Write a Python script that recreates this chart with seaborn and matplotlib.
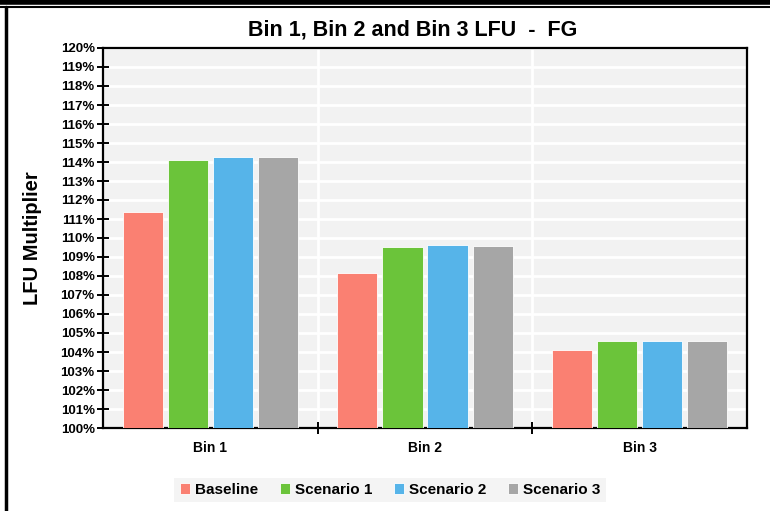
import numpy as np
import pandas as pd
import matplotlib
matplotlib.use("Agg")
import matplotlib.pyplot as plt
from matplotlib.ticker import PercentFormatter, MultipleLocator, FixedLocator
from matplotlib.lines import Line2D
import seaborn as sns

# 数据
bins = ["Bin 1", "Bin 2", "Bin 3"]
scenarios = ["Baseline", "Scenario 1", "Scenario 2", "Scenario 3"]
baseline = [1.1137, 1.0817, 1.0410]
scenario_1 = [1.1410, 1.0951, 1.0458]
scenario_2 = [1.1425, 1.0962, 1.0460]
scenario_3 = [1.1425, 1.0957, 1.0460]
colors = ["#FA8072", "#6BC43A", "#56B4E9", "#A6A6A6"]

df = pd.DataFrame({
    "Bin": bins * 4,
    "Scenario": np.repeat(scenarios, len(bins)),
    "Value": baseline + scenario_1 + scenario_2 + scenario_3,
})

sns.set_theme(style="white")
plt.rcParams["font.family"] = ["Liberation Sans", "DejaVu Sans"]
plt.rcParams["text.color"] = "black"
plt.rcParams["xtick.color"] = "black"
plt.rcParams["ytick.color"] = "black"
plt.rcParams["axes.labelcolor"] = "black"

fig = plt.figure(figsize=(7.7, 5.11), dpi=100)
ax = fig.add_axes([103 / 770, 83 / 511, 644 / 770, 380 / 511])
ax.set_facecolor("#F2F2F2")

sns.barplot(data=df, x="Bin", y="Value", hue="Scenario", palette=colors,
            saturation=1, width=0.84, gap=0.11, ax=ax, legend=True, zorder=3,
            edgecolor="white", linewidth=0.6)

ax.set_ylim(1.0, 1.2)
ax.set_xlim(-0.5, 2.5)
ax.yaxis.set_major_locator(MultipleLocator(0.01))
ax.yaxis.set_major_formatter(PercentFormatter(xmax=1, decimals=0))
ax.xaxis.set_minor_locator(FixedLocator([0.5, 1.5]))
ax.grid(axis="y", which="major", color="white", linewidth=2, zorder=0)
ax.grid(axis="x", which="minor", color="white", linewidth=2, zorder=0)
ax.set_axisbelow(True)

for s in ax.spines.values():
    s.set_visible(True)
    s.set_color("black")
    s.set_linewidth(1.6)

ax.tick_params(axis="y", which="major", direction="inout", length=8, width=1.4,
               labelsize=9.5, left=True, pad=2)
ax.tick_params(axis="x", which="major", length=0, labelsize=10, pad=9)
ax.tick_params(axis="x", which="minor", direction="inout", length=8, width=1.4,
               bottom=True)
for lbl in ax.get_yticklabels() + ax.get_xticklabels():
    lbl.set_fontweight("bold")

ax.set_xlabel("")
ax.set_ylabel("LFU Multiplier", fontsize=14.5, fontweight="bold", labelpad=13)

fig.text(413 / 770, 1 - 30 / 511, "Bin 1, Bin 2 and Bin 3 LFU  -  FG",
         ha="center", va="center", fontsize=15.5, fontweight="bold")

handles, labels = ax.get_legend_handles_labels()
ax.legend_.remove()
leg = fig.legend(handles, labels, loc="center", bbox_to_anchor=(390 / 770, 1 - 490 / 511),
                 ncol=4, frameon=True, facecolor="#F2F2F2", edgecolor="none",
                 fancybox=False, handlelength=0.7, handleheight=0.7,
                 handletextpad=0.3, columnspacing=1.4, borderpad=0.35,
                 prop={"weight": "bold", "size": 11})

# 外框
fig.add_artist(Line2D([0, 1], [1 - 2.5 / 511] * 2, color="black", linewidth=4))
fig.add_artist(Line2D([0, 1], [1 - 7 / 511] * 2, color="black", linewidth=1.5))
fig.add_artist(Line2D([6 / 770] * 2, [0, 1 - 7 / 511], color="black", linewidth=2.5))

fig.savefig("out.png", dpi=100, facecolor="white")
